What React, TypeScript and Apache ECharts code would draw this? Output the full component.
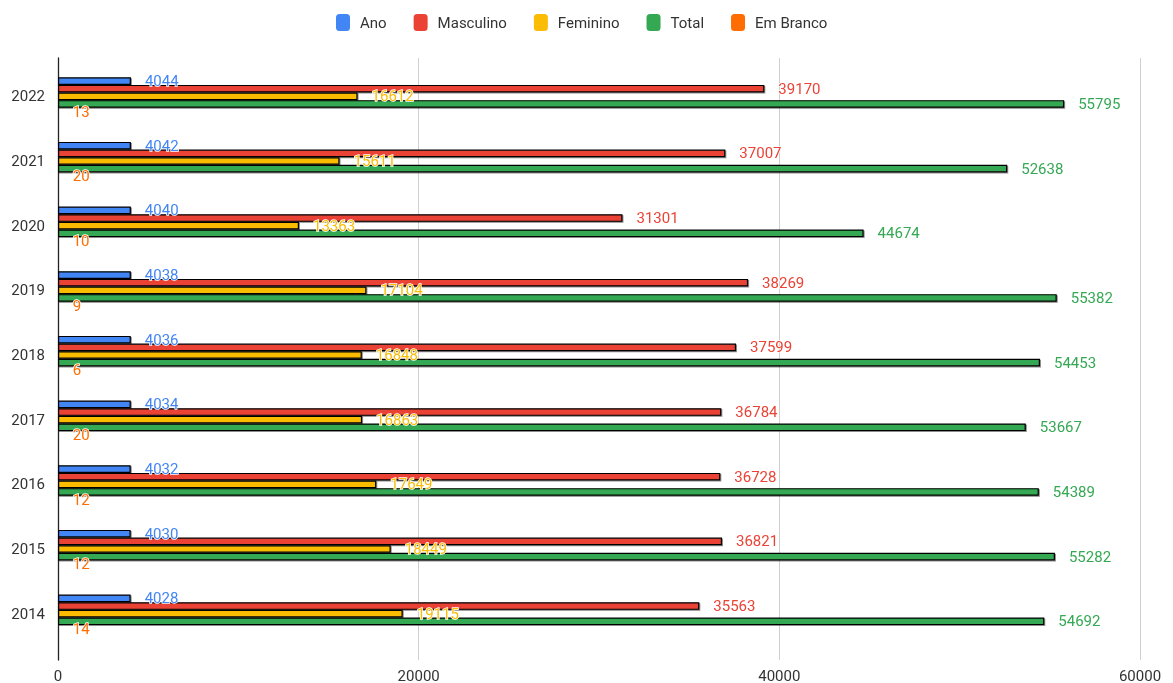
import React, { useEffect, useRef } from "react";
import * as echarts from "echarts";

const years = ["2022", "2021", "2020", "2019", "2018", "2017", "2016", "2015", "2014"];
const ano = [4044, 4042, 4040, 4038, 4036, 4034, 4032, 4030, 4028];
const masculino = [39170, 37007, 31301, 38269, 37599, 36784, 36728, 36821, 35563];
const feminino = [16612, 15611, 13363, 17104, 16848, 16863, 17649, 18449, 19115];
const total = [55795, 52638, 44674, 55382, 54453, 53667, 54389, 55282, 54692];
const emBranco = [13, 20, 10, 9, 6, 20, 12, 12, 14];
const xTicks = [0, 20000, 40000, 60000];

const seriesDefs = [
  { name: "Ano", data: ano, color: "#4285F4" },
  { name: "Masculino", data: masculino, color: "#EA4335" },
  { name: "Feminino", data: feminino, color: "#FBBC04" },
  { name: "Total", data: total, color: "#34A853" },
  { name: "Em Branco", data: emBranco, color: "#FF6D01" },
];

const FONT = "Roboto";

export default function App() {
  const ref = useRef<HTMLDivElement>(null);
  useEffect(() => {
    if (!ref.current) return;
    const chart = echarts.init(ref.current, null, { renderer: "svg" });
    chart.setOption({
      animation: false,
      textStyle: { fontFamily: FONT },
      legend: {
        top: 9,
        left: 331,
        icon: "roundRect",
        itemWidth: 14,
        itemHeight: 17,
        itemGap: 27,
        itemStyle: { borderWidth: 0, shadowBlur: 0, shadowOffsetX: 0, shadowOffsetY: 0, shadowColor: "transparent" },
        textStyle: { fontSize: 15, color: "#333", fontFamily: FONT, padding: [0, 0, 0, 5] },
        data: seriesDefs.map((s) => s.name),
      },
      grid: [
        { left: 58, right: 33, top: 58, bottom: 23, containLabel: false },
        { left: 58, right: 33, top: 64, bottom: 37, containLabel: false },
      ],
      xAxis: [
        {
          gridIndex: 0,
          type: "value",
          min: xTicks[0],
          max: xTicks[xTicks.length - 1],
          interval: xTicks[1] - xTicks[0],
          axisLine: { show: false },
          axisTick: { show: false },
          axisLabel: {
            fontSize: 15,
            color: "#333",
            fontFamily: FONT,
            margin: 8,
            formatter: (v: number) => String(v),
          },
          splitLine: { show: true, lineStyle: { color: "#d0d0d0", width: 1 } },
        },
        {
          gridIndex: 1,
          type: "value",
          min: xTicks[0],
          max: xTicks[xTicks.length - 1],
          show: false,
        },
      ],
      yAxis: [
        {
          gridIndex: 0,
          type: "category",
          data: [""],
          axisLine: { show: true, lineStyle: { color: "#222", width: 1.3 } },
          axisTick: { show: false },
          axisLabel: { show: false },
          splitLine: { show: false },
        },
        {
          gridIndex: 1,
          type: "category",
          inverse: true,
          data: years,
          axisLine: { show: false },
          axisTick: { show: false },
          axisLabel: { fontSize: 15, color: "#333", fontFamily: FONT, margin: 13 },
          splitLine: { show: false },
        },
      ],
      series: seriesDefs.map((s) => ({
        name: s.name,
        type: "bar",
        xAxisIndex: 1,
        yAxisIndex: 1,
        data: s.data,
        barGap: "0%",
        barCategoryGap: "41%",
        itemStyle: {
          color: s.color,
          borderColor: "#000",
          borderWidth: 1.2,
          shadowColor: "rgba(0,0,0,0.45)",
          shadowOffsetX: 1,
          shadowOffsetY: 1,
          shadowBlur: 1,
        },
        label: {
          show: true,
          position: "right",
          distance: 14,
          color: s.color,
          fontSize: 15,
          fontFamily: FONT,
          textBorderColor: "#fff",
          textBorderWidth: 1.5,
          textShadowColor: "transparent",
          textShadowBlur: 0,
        },
      })),
    });
    return () => chart.dispose();
  }, []);
  return (
    <div
      ref={ref}
      style={{ position: "fixed", left: 0, top: 0, width: 1173, height: 683 }}
    />
  );
}
